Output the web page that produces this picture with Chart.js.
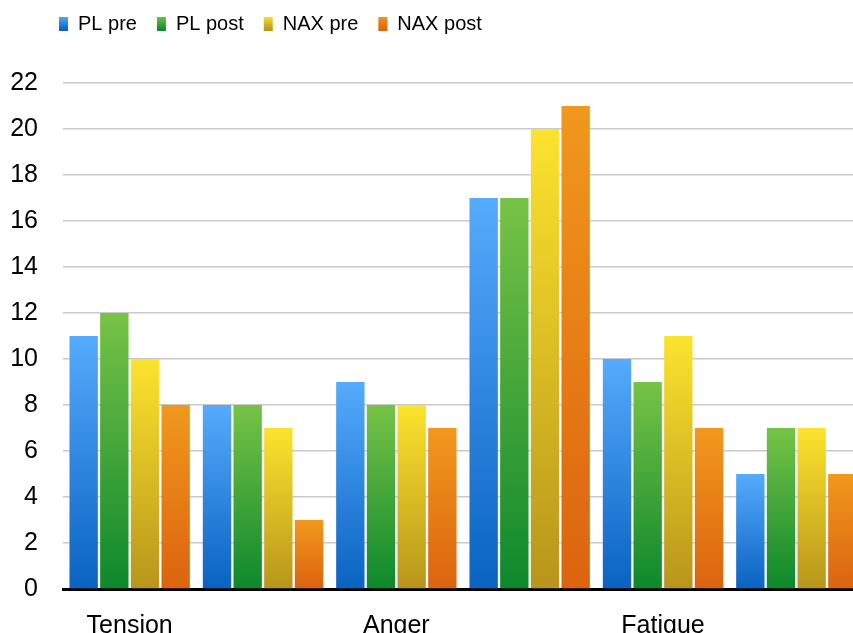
<!DOCTYPE html>
<html>
<head>
<meta charset="utf-8">
<script src="https://cdn.jsdelivr.net/npm/chart.js@4.4.1/dist/chart.umd.min.js"></script>
<style>
html, body { margin: 0; padding: 0; background: #fff; overflow: hidden; }
#box { width: 863px; height: 655px; }
</style>
</head>
<body>
<div id="box"><canvas id="moodChart"></canvas></div>
<script>
// categories (only every other one carries a label in the original)
var categories = ["Tension", "", "Anger", "", "Fatigue", ""];
var seriesNames = ["PL pre", "PL post", "NAX pre", "NAX post"];
var plPre   = [11, 8, 9, 17, 10, 5];
var plPost  = [12, 8, 8, 17, 9, 7];
var naxPre  = [10, 7, 8, 20, 11, 7];
var naxPost = [8, 3, 7, 21, 7, 5];
var yTicks  = [0, 2, 4, 6, 8, 10, 12, 14, 16, 18, 20, 22];

// top / bottom colour of each bar gradient
var topColors    = ["#55abfc", "#77c346", "#fce32e", "#f1981d"];
var bottomColors = ["#0a62c2", "#0d882c", "#b8951b", "#dc630f"];

function barFill(i) {
    return function (ctx) {
        var chart = ctx.chart;
        if (!chart.chartArea || ctx.type !== 'data') return topColors[i];
        var y = chart.scales.y;
        var yTop = y.getPixelForValue(ctx.raw);
        var yBot = y.getPixelForValue(0);
        if (!isFinite(yTop) || !isFinite(yBot) || yTop === yBot) return topColors[i];
        var g = chart.ctx.createLinearGradient(0, yTop, 0, yBot);
        g.addColorStop(0, topColors[i]);
        g.addColorStop(1, bottomColors[i]);
        return g;
    };
}

function legendFill(chart, i) {
    var g = chart.ctx.createLinearGradient(0, 16, 0, 30);
    g.addColorStop(0, topColors[i]);
    g.addColorStop(1, bottomColors[i]);
    return g;
}

var allValues = [plPre, plPost, naxPre, naxPost];
var datasets = [];
allValues.forEach(function (vals, i) {
    datasets.push({
        label: seriesNames[i],
        data: vals,
        backgroundColor: barFill(i),
        borderWidth: 0,
        categoryPercentage: 0.92,
        barPercentage: 0.925
    });
});

// push the legend to the right / up, like the original
var legendShift = {
    id: 'legendShift',
    afterLayout: function (chart) {
        chart.legend.left += 29;
        chart.legend.top -= 39;
    }
};

var moodChart = new Chart("moodChart", {
    type: "bar",
    data: {
        labels: categories,
        datasets: datasets
    },
    plugins: [legendShift],
    options: {
        responsive: true,
        maintainAspectRatio: false,
        animation: false,
        layout: { padding: { left: 10, top: 33, right: 0, bottom: 0 } },
        plugins: {
            tooltip: { enabled: false },
            legend: {
                position: 'top',
                align: 'start',
                labels: {
                    boxWidth: 9,
                    boxHeight: 14,
                    padding: 20,
                    color: '#000',
                    font: { family: "'Liberation Sans', Arial", size: 20 },
                    generateLabels: function (chart) {
                        return chart.data.datasets.map(function (ds, i) {
                            return {
                                text: ds.label,
                                fillStyle: legendFill(chart, i),
                                strokeStyle: 'rgba(0,0,0,0)',
                                lineWidth: 0,
                                datasetIndex: i,
                                hidden: false
                            };
                        });
                    }
                }
            }
        },
        scales: {
            x: {
                grid: { display: false },
                border: { display: true, color: '#000', width: 3 },
                afterFit: function (scale) {
                    scale.paddingLeft = 0;
                    scale.paddingRight = 0;
                },
                ticks: {
                    color: '#000',
                    padding: 14,
                    maxRotation: 0,
                    autoSkip: false,
                    font: { family: "'Liberation Sans', Arial", size: 25 }
                }
            },
            y: {
                min: 0,
                max: 22,
                afterBuildTicks: function (axis) {
                    axis.ticks = yTicks.map(function (v) { return { value: v }; });
                },
                afterFit: function (axis) {
                    axis.width = 53;
                },
                border: { display: false },
                grid: {
                    drawTicks: false,
                    lineWidth: 1.5,
                    color: function (c) { return c.tick && c.tick.value === 0 ? 'rgba(0,0,0,0)' : '#c9c9c9'; }
                },
                ticks: {
                    color: '#000',
                    padding: 25,
                    font: { family: "'Liberation Sans', Arial", size: 25 }
                }
            }
        }
    }
});
</script>
</body>
</html>
